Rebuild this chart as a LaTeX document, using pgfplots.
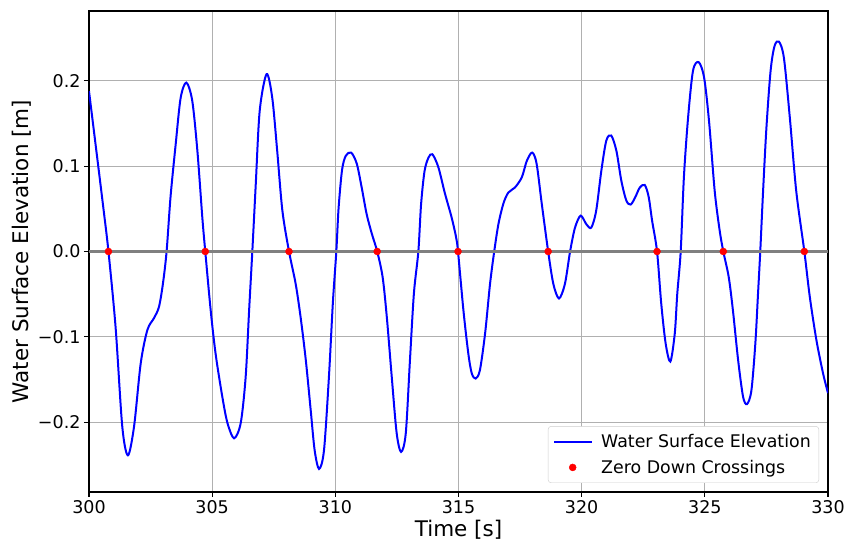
\documentclass[border=0pt]{standalone}
\usepackage{fontspec}
\setmainfont{DejaVu Sans}
\usepackage{pgfplots}
\pgfplotsset{compat=1.18}
\definecolor{gridgray}{HTML}{B0B0B0}
\definecolor{zerogray}{HTML}{808080}
\definecolor{legframe}{HTML}{CCCCCC}
\begin{document}
\begin{tikzpicture}
\path[use as bounding box] (-89pt,-53pt) rectangle (757pt,492pt);
\begin{axis}[
  scale only axis,
  width=739pt, height=481pt,
  xmin=300, xmax=330, ymin=-0.282, ymax=0.282,
  xtick={300,305,...,330},
  ytick={-0.2,-0.1,0,0.1,0.2},
  yticklabels={−0.2,−0.1,0.0,0.1,0.2},
  xtick pos=bottom, ytick pos=left,
  /pgf/number format/assume math mode=true,
  tick label style={font=\fontsize{17.5}{20}\selectfont},
  xticklabel style={/pgf/number format/1000 sep={}},
  tick align=outside, major tick length=5pt,
  tick style={black, line width=1.1pt},
  axis line style={black, line width=1.1pt},
  grid=major, grid style={gridgray, line width=1.1pt},
  xlabel={Time [s]}, ylabel={Water Surface Elevation [m]},
  label style={font=\fontsize{21.5}{25}\selectfont},
  legend cell align=left,
  legend image code/.code={\draw[mark repeat=2,mark phase=2,#1] plot coordinates {(0pt,0pt) (18.5pt,0pt) (37pt,0pt)};},
  legend style={at={(rel axis cs:1,0)}, anchor=south east, xshift=-9pt, yshift=9pt,
    draw=legframe, rounded corners=3pt, font=\fontsize{17.4}{20}\selectfont,
    inner xsep=5pt, inner ysep=5pt, row sep=5pt,
    nodes={inner sep=3pt},
    /tikz/every odd column/.append style={column sep=6pt}},
]
\addplot[blue, line width=2pt, smooth, tension=0.5] coordinates {
(300.00,0.188) (300.38,0.099) (300.60,0.047) (300.79,0.000) (301.08,-0.089)
(301.35,-0.205) (301.58,-0.239) (301.83,-0.205) (302.10,-0.131) (302.37,-0.092)
(302.64,-0.078) (302.84,-0.065) (303.00,-0.038) (303.15,0.000) (303.31,0.064)
(303.52,0.126) (303.72,0.180) (303.95,0.198) (304.19,0.177) (304.40,0.118)
(304.60,0.040) (304.72,0.000) (304.94,-0.069) (305.14,-0.120) (305.41,-0.170)
(305.62,-0.201) (305.89,-0.219) (306.16,-0.201) (306.36,-0.147) (306.50,-0.069)
(306.63,0.000) (306.77,0.079) (306.93,0.165) (307.21,0.208) (307.44,0.180)
(307.64,0.118) (307.85,0.048) (308.12,0.000) (308.39,-0.038) (308.59,-0.077)
(308.80,-0.127) (309.00,-0.186) (309.16,-0.233) (309.34,-0.255) (309.54,-0.233)
(309.74,-0.147) (309.90,-0.060) (310.04,0.000) (310.13,0.050) (310.27,0.095)
(310.42,0.112) (310.64,0.116) (310.87,0.103) (311.07,0.075) (311.27,0.044)
(311.48,0.021) (311.70,0.000) (311.92,-0.030) (312.09,-0.077) (312.29,-0.147)
(312.49,-0.213) (312.67,-0.235) (312.86,-0.213) (313.03,-0.127) (313.19,-0.049)
(313.37,0.000) (313.48,0.055) (313.62,0.094) (313.78,0.110) (313.94,0.114)
(314.18,0.099) (314.45,0.068) (314.72,0.040) (314.90,0.017) (314.98,0.000)
(315.20,-0.069) (315.40,-0.120) (315.54,-0.143) (315.70,-0.149) (315.87,-0.139)
(316.08,-0.096) (316.28,-0.038) (316.45,0.000) (316.62,0.032) (316.82,0.056)
(317.02,0.069) (317.29,0.075) (317.57,0.087) (317.77,0.106) (317.99,0.116)
(318.17,0.103) (318.38,0.056) (318.64,0.000) (318.85,-0.038) (319.08,-0.055)
(319.32,-0.038) (319.53,0.000) (319.73,0.028) (319.96,0.042) (320.19,0.032)
(320.39,0.028) (320.59,0.048) (320.80,0.095) (321.00,0.130) (321.20,0.136)
(321.41,0.118) (321.61,0.083) (321.81,0.060) (321.99,0.055) (322.18,0.064)
(322.36,0.075) (322.56,0.078) (322.72,0.064) (322.86,0.036) (323.06,0.000)
(323.23,-0.061) (323.41,-0.108) (323.60,-0.129) (323.78,-0.096) (323.88,-0.050)
(324.02,0.000) (324.15,0.087) (324.32,0.157) (324.52,0.212) (324.75,0.222)
(324.97,0.204) (325.17,0.153) (325.40,0.071) (325.60,0.025) (325.75,0.000)
(325.97,-0.030) (326.14,-0.069) (326.35,-0.127) (326.55,-0.170) (326.71,-0.179)
(326.89,-0.163) (327.05,-0.108) (327.16,-0.049) (327.25,0.000) (327.36,0.068)
(327.50,0.145) (327.67,0.212) (327.83,0.241) (328.01,0.246) (328.21,0.227)
(328.45,0.157) (328.71,0.071) (329.04,0.000) (329.26,-0.053) (329.53,-0.104)
(329.80,-0.143) (330.00,-0.166)
};
\addlegendentry{Water Surface Elevation}
\addplot[zerogray, line width=3pt, forget plot] coordinates {(300,0) (330,0)};
\addplot[only marks, mark=*, mark size=3.5pt, red, mark options={draw=red, fill=red}] coordinates {
(300.79,0) (304.72,0) (308.12,0) (311.70,0) (314.98,0) (318.64,0) (323.06,0) (325.75,0) (329.04,0)
};
\addlegendentry{Zero Down Crossings}
\end{axis}
\end{tikzpicture}
\end{document}
